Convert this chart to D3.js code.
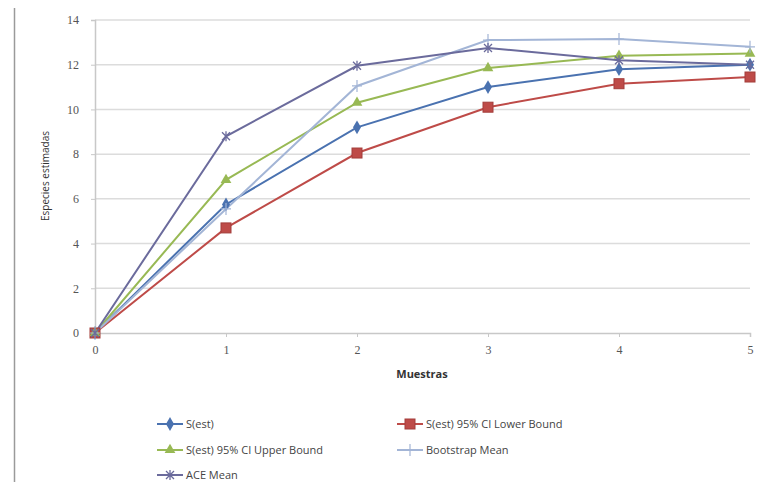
<!DOCTYPE html>
<html lang="es">
<head>
<meta charset="utf-8">
<title>Especies estimadas</title>
<script src="https://d3js.org/d3.v7.min.js"></script>
<style>
  body { margin: 0; background: #fff; }
  svg { font-family: "Open Sans", "DejaVu Sans", sans-serif; }
</style>
</head>
<body>
<script>
var muestras = [0, 1, 2, 3, 4, 5];
var sEst = [0, 5.75, 9.2, 11.0, 11.8, 12.0];
var lowerBound = [0, 4.7, 8.05, 10.1, 11.15, 11.45];
var upperBound = [0, 6.85, 10.3, 11.85, 12.4, 12.5];
var bootstrapMean = [0, 5.55, 11.05, 13.1, 13.15, 12.8];
var aceMean = [0, 8.8, 11.95, 12.75, 12.2, 12.0];
var yTicks = [0, 2, 4, 6, 8, 10, 12, 14];

var series = [
  { name: "S(est)", values: sEst, color: "#4a72b0", marker: "diamond" },
  { name: "S(est) 95% CI Lower Bound", values: lowerBound, color: "#be4b48", marker: "square" },
  { name: "S(est) 95% CI Upper Bound", values: upperBound, color: "#98b954", marker: "triangle" },
  { name: "Bootstrap Mean", values: bootstrapMean, color: "#a3b5d6", marker: "plus" },
  { name: "ACE Mean", values: aceMean, color: "#6b6b9c", marker: "cross" }
];

var width = 757, height = 488;
var svg = d3.select("body").append("svg")
  .attr("width", width).attr("height", height);

// outer left frame line
svg.append("line")
  .attr("x1", 14.5).attr("x2", 14.5).attr("y1", 8).attr("y2", 482)
  .attr("stroke", "#9a9a9a").attr("stroke-width", 1.5);

var x = d3.scaleLinear().domain([0, 5]).range([95, 750]);
var y = d3.scaleLinear().domain([0, 14]).range([333, 20]);

// gridlines
svg.append("g").selectAll("line")
  .data(yTicks.filter(function(d) { return d > 0; }))
  .enter().append("line")
  .attr("x1", x(0)).attr("x2", x(5))
  .attr("y1", function(d) { return y(d); })
  .attr("y2", function(d) { return y(d); })
  .attr("stroke", "#dcdcdc").attr("stroke-width", 1.5);

// y axis
var yAxis = svg.append("g")
  .attr("transform", "translate(" + x(0) + ",0)")
  .call(d3.axisLeft(y).tickValues(yTicks).tickSize(4).tickPadding(12));
// x axis
var xAxis = svg.append("g")
  .attr("transform", "translate(0," + y(0) + ")")
  .call(d3.axisBottom(x).tickValues(muestras).tickSize(4).tickPadding(8).tickFormat(d3.format("d")));

[xAxis, yAxis].forEach(function(a) {
  a.attr("font-family", "'Liberation Serif', serif");
  a.select(".domain").attr("stroke", "#c8c8c8").attr("stroke-width", 1.5);
  a.selectAll(".tick line").attr("stroke", "#c8c8c8");
  a.selectAll(".tick text").attr("fill", "#555").style("font-size", "12px");
});

svg.append("text")
  .attr("x", 422).attr("y", 378)
  .attr("text-anchor", "middle")
  .attr("fill", "#333").style("font-weight", "bold").style("font-size", "11px")
  .text("Muestras");

svg.append("text")
  .attr("transform", "translate(49,176) rotate(-90)")
  .attr("text-anchor", "middle")
  .attr("fill", "#333").style("font-size", "10px")
  .text("Especies estimadas");

function drawMarker(g, type, color) {
  if (type === "diamond") {
    g.append("path").attr("d", d3.symbol(d3.symbolDiamond, 55)())
      .attr("fill", color);
  } else if (type === "square") {
    g.append("rect").attr("x", -5).attr("y", -5).attr("width", 10).attr("height", 10)
      .attr("fill", color).attr("stroke", "#a33d3a");
  } else if (type === "triangle") {
    g.append("path").attr("d", d3.symbol(d3.symbolTriangle, 50)())
      .attr("fill", color);
  } else if (type === "plus") {
    g.append("path").attr("d", "M0,-6V6M-5,0H5")
      .attr("stroke", color).attr("stroke-width", 1.2).attr("fill", "none");
  } else if (type === "cross") {
    g.append("path").attr("d", "M-4,-4L4,4M-4,4L4,-4M0,-5V5")
      .attr("stroke", color).attr("stroke-width", 1.3).attr("fill", "none");
  }
}

var line = d3.line()
  .x(function(d, i) { return x(muestras[i]); })
  .y(function(d) { return y(d); });

series.forEach(function(s) {
  svg.append("path")
    .attr("d", line(s.values))
    .attr("fill", "none")
    .attr("stroke", s.color)
    .attr("stroke-width", 2);
});
series.forEach(function(s) {
  s.values.forEach(function(v, i) {
    var g = svg.append("g")
      .attr("transform", "translate(" + x(muestras[i]) + "," + y(v) + ")");
    drawMarker(g, s.marker, s.color);
  });
});

// legend
var legendPos = [[157, 424], [397, 424], [157, 450], [397, 450], [157, 475]];
series.forEach(function(s, i) {
  var p = legendPos[i];
  var g = svg.append("g").attr("transform", "translate(" + p[0] + "," + p[1] + ")");
  g.append("line").attr("x1", 0).attr("x2", 26).attr("y1", 0).attr("y2", 0)
    .attr("stroke", s.color).attr("stroke-width", 2);
  drawMarker(g.append("g").attr("transform", "translate(13,0)"), s.marker, s.color);
  g.append("text").attr("x", 29).attr("y", 4)
    .attr("fill", "#444").style("font-size", "11px")
    .text(s.name);
});
</script>
</body>
</html>
